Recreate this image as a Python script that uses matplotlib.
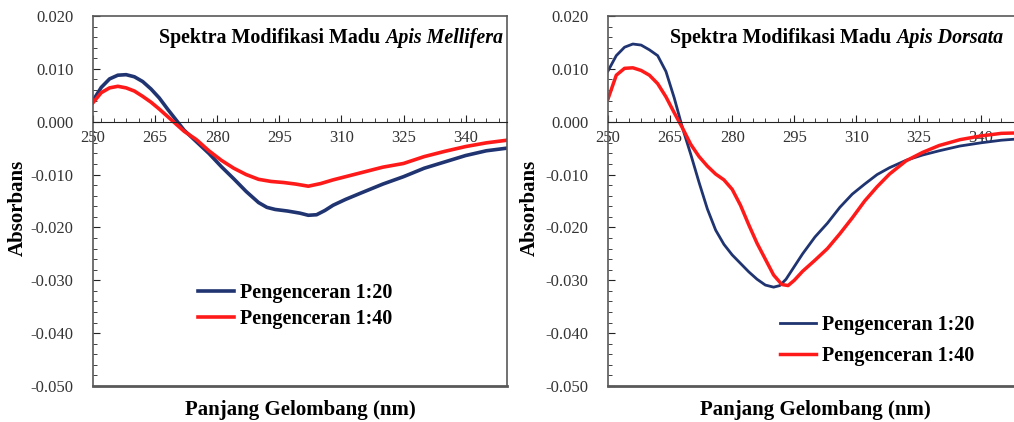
import matplotlib
matplotlib.use("Agg")
import matplotlib.pyplot as plt
from matplotlib.ticker import FixedLocator, MultipleLocator, FuncFormatter

plt.rcParams["font.family"] = ["Liberation Serif", "DejaVu Serif"]

# --- data ---
mel_x_20 = [250, 252, 254, 256, 258, 260, 262, 264, 266, 268, 270, 272, 275, 278, 281, 284,
            287, 290, 292, 294, 297, 300, 302, 304, 306, 308, 311, 315, 320, 325, 330, 335,
            340, 345, 350]
mel_y_20 = [0.0040, 0.0065, 0.0081, 0.0088, 0.0089, 0.0085, 0.0076, 0.0062, 0.0045, 0.0024,
            0.0004, -0.0016, -0.0038, -0.0060, -0.0085, -0.0108, -0.0132, -0.0153, -0.0162,
            -0.0166, -0.0169, -0.0173, -0.0177, -0.0176, -0.0168, -0.0158, -0.0147, -0.0134,
            -0.0118, -0.0104, -0.0088, -0.0076, -0.0064, -0.0055, -0.0050]

mel_x_40 = [250, 252, 254, 256, 258, 260, 262, 264, 266, 268, 270, 272, 275, 278, 281, 284,
            287, 290, 293, 296, 299, 302, 305, 308, 312, 316, 320, 325, 330, 335, 340, 345, 350]
mel_y_40 = [0.0036, 0.0055, 0.0064, 0.0067, 0.0064, 0.0058, 0.0048, 0.0037, 0.0024, 0.0010,
            -0.0004, -0.0018, -0.0034, -0.0055, -0.0073, -0.0088, -0.0100, -0.0109, -0.0113,
            -0.0115, -0.0118, -0.0122, -0.0117, -0.0110, -0.0102, -0.0094, -0.0086, -0.0079,
            -0.0066, -0.0056, -0.0047, -0.0040, -0.0035]

dor_x_20 = [250, 252, 254, 256, 258, 260, 262, 264, 266, 268, 270, 272, 274, 276, 278, 280,
            282, 284, 286, 288, 290, 291.5, 293, 295, 297, 300, 303, 306, 309, 312, 315, 318,
            322, 326, 330, 335, 340, 345, 350]
dor_y_20 = [0.0096, 0.0125, 0.0141, 0.0147, 0.0145, 0.0136, 0.0125, 0.0095, 0.0045, -0.0012,
            -0.0062, -0.0115, -0.0165, -0.0205, -0.0232, -0.0252, -0.0268, -0.0284, -0.0298,
            -0.0309, -0.0313, -0.0310, -0.0298, -0.0274, -0.0250, -0.0218, -0.0192, -0.0162,
            -0.0137, -0.0118, -0.0100, -0.0087, -0.0073, -0.0063, -0.0055, -0.0046, -0.0040,
            -0.0035, -0.0032]

dor_x_40 = [250, 252, 254, 256, 258, 260, 262, 264, 266, 268, 270, 272, 274, 276, 278, 280,
            282, 284, 286, 288, 290, 292, 293.5, 295, 297, 300, 303, 306, 309, 312, 315, 318,
            322, 326, 330, 335, 340, 345, 350]
dor_y_40 = [0.0043, 0.0088, 0.0101, 0.0102, 0.0097, 0.0088, 0.0072, 0.0047, 0.0017, -0.0012,
            -0.0043, -0.0066, -0.0084, -0.0099, -0.0110, -0.0128, -0.0158, -0.0195, -0.0230,
            -0.0260, -0.0290, -0.0308, -0.0310, -0.0300, -0.0283, -0.0262, -0.0240, -0.0212,
            -0.0182, -0.0150, -0.0123, -0.0099, -0.0074, -0.0058, -0.0045, -0.0034, -0.0027,
            -0.0022, -0.0021]

x_ticks = [250, 265, 280, 295, 310, 325, 340]
labels = ["Pengenceran 1:20", "Pengenceran 1:40"]
species = ["Apis Mellifera", "Apis Dorsata"]

BLUE = "#1f3470"
RED = "#ff1a1a"
EDGE = "#595959"
W, H = 1014, 422


def px_axes(left, right, top, bottom):
    return [left / W, 1 - bottom / H, (right - left) / W, (bottom - top) / H]


def fmt_y(v, pos):
    if abs(v) < 1e-9:
        return "0.000"
    return f"{v:.3f}"


def style_axes(ax):
    ax.set_xlim(250, 350)
    ax.set_ylim(-0.05, 0.02)
    ax.xaxis.set_major_locator(FixedLocator(x_ticks))
    ax.xaxis.set_minor_locator(MultipleLocator(3))
    ax.yaxis.set_major_locator(MultipleLocator(0.01))
    ax.yaxis.set_minor_locator(MultipleLocator(0.002))
    ax.yaxis.set_major_formatter(FuncFormatter(fmt_y))
    ax.spines["bottom"].set_position(("data", 0))
    ax.spines["bottom"].set_color("#222222")
    for s in ["left", "top", "right"]:
        ax.spines[s].set_color(EDGE)
        ax.spines[s].set_linewidth(1.2)
    ax.plot([0, 1], [0, 0], transform=ax.transAxes, color=EDGE, lw=2.0, clip_on=False)
    ax.tick_params(axis="both", which="both", direction="in", labelsize=12, colors="#222222",
                   labelcolor="#333333")
    ax.tick_params(axis="both", which="major", length=5)
    ax.tick_params(axis="both", which="minor", length=3)
    ax.tick_params(axis="x", pad=6)
    ax.tick_params(axis="y", pad=14)


def add_title(ax, name, right_frac):
    it = ax.text(right_frac, 0.927, name, transform=ax.transAxes, ha="right", va="baseline",
                 fontsize=14.4, fontweight="bold", fontstyle="italic")
    ax.annotate("Spektra Modifikasi Madu ", xy=(0, 0.927), xycoords=(it, "axes fraction"),
                ha="right", va="baseline", fontsize=14.4, fontweight="bold")


fig = plt.figure(figsize=(W / 100, H / 100), dpi=100)

ax1 = fig.add_axes(px_axes(93, 507, 16, 386))
ax1.plot(mel_x_20, mel_y_20, color=BLUE, lw=2.6, label=labels[0])
ax1.plot(mel_x_40, mel_y_40, color=RED, lw=2.6, label=labels[1])
style_axes(ax1)
add_title(ax1, species[0], (503 - 93) / 414)
ax1.legend(loc="center left", bbox_to_anchor=(0.254, 0.215), frameon=False,
           prop={"weight": "bold", "size": 14.5}, handlelength=1.8, handletextpad=0.3,
           borderpad=0, borderaxespad=0, labelspacing=0.3)

ax2 = fig.add_axes(px_axes(608, 1022, 16, 386))
ax2.plot(dor_x_20, dor_y_20, color=BLUE, lw=2.0, label=labels[0])
ax2.plot(dor_x_40, dor_y_40, color=RED, lw=2.5, label=labels[1])
style_axes(ax2)
add_title(ax2, species[1], (1003 - 608) / 414)
ax2.legend(loc="center left", bbox_to_anchor=(0.415, 0.123), frameon=False,
           prop={"weight": "bold", "size": 14.5}, handlelength=1.8, handletextpad=0.3,
           borderpad=0, borderaxespad=0, labelspacing=0.55)

for xc in [300, 815]:
    fig.text(xc / W, 12 / H, "Panjang Gelombang (nm)", ha="center", va="center",
             fontsize=15, fontweight="bold")
for xl in [18, 530]:
    fig.text(xl / W, 1 - 208 / H, "Absorbans", ha="center", va="center",
             rotation=90, fontsize=15, fontweight="bold")

fig.savefig("out.png", dpi=100)
